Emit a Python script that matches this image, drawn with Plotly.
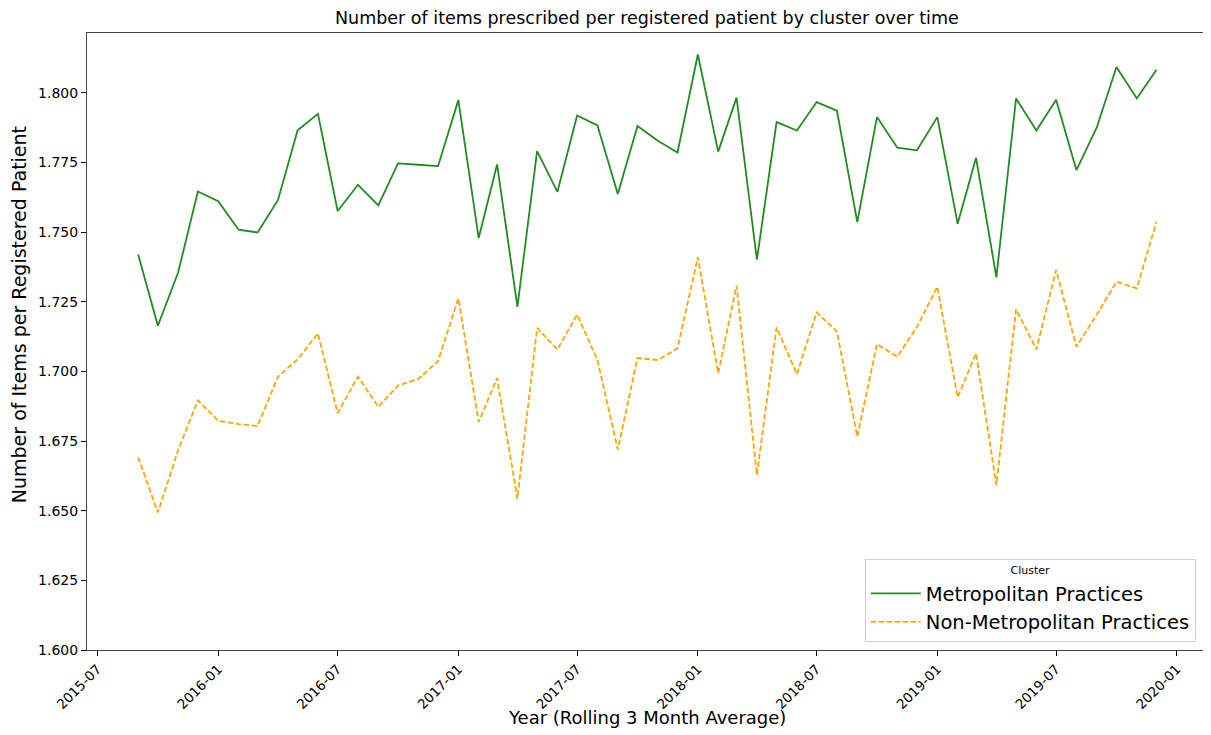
import plotly.graph_objects as go
import pandas as pd

months = pd.date_range("2015-09-01", "2019-12-01", freq="MS")

metro = [1.7420, 1.7164, 1.7356, 1.7646, 1.7611, 1.7509, 1.7499, 1.7615, 1.7866, 1.7925,
         1.7576, 1.7670, 1.7596, 1.7747, 1.7742, 1.7737, 1.7974, 1.7479, 1.7743, 1.7232,
         1.7791, 1.7645, 1.7919, 1.7883, 1.7637, 1.7881, 1.7828, 1.7786, 1.8138, 1.7789,
         1.7983, 1.7401, 1.7895, 1.7865, 1.7967, 1.7936, 1.7536, 1.7913, 1.7803, 1.7794,
         1.7913, 1.7530, 1.7767, 1.7338, 1.7980, 1.7865, 1.7975, 1.7723, 1.7876, 1.8093,
         1.7980, 1.8083]

non_metro = [1.6692, 1.6494, 1.6718, 1.6896, 1.6823, 1.6811, 1.6804, 1.6981, 1.7043, 1.7137,
             1.6850, 1.6981, 1.6873, 1.6949, 1.6973, 1.7037, 1.7262, 1.6819, 1.6976, 1.6543,
             1.7156, 1.7079, 1.7204, 1.7041, 1.6720, 1.7048, 1.7041, 1.7083, 1.7410, 1.6993,
             1.7308, 1.6628, 1.7158, 1.6990, 1.7212, 1.7143, 1.6766, 1.7098, 1.7053, 1.7160,
             1.7304, 1.6907, 1.7065, 1.6592, 1.7223, 1.7079, 1.7364, 1.7089, 1.7204, 1.7322,
             1.7298, 1.7537]

series_names = ["Metropolitan Practices", "Non-Metropolitan Practices"]
x_ticks = pd.date_range("2015-07-01", "2020-01-01", freq="6MS")
y_ticks = [1.600, 1.625, 1.650, 1.675, 1.700, 1.725, 1.750, 1.775, 1.800]

FONT = "DejaVu Sans"

fig = go.Figure()
fig.add_trace(go.Scatter(x=months, y=metro, mode="lines", name=series_names[0],
                         line=dict(color="#228B22", width=1.8)))
fig.add_trace(go.Scatter(x=months, y=non_metro, mode="lines", name=series_names[1],
                         line=dict(color="#FFA500", width=1.8, dash="5.5px,2.5px")))

fig.update_layout(
    width=1211, height=735,
    paper_bgcolor="white", plot_bgcolor="white",
    margin=dict(l=79, r=12, t=25, b=93, autoexpand=False),
    font=dict(family=FONT, color="black"),
    showlegend=True,
    legend=dict(
        title=dict(text="Cluster", side="top center", font=dict(size=11, family=FONT)),
        font=dict(size=19.5, family=FONT),
        x=0.990, xanchor="right", y=0.013, yanchor="bottom",
        bgcolor="white", bordercolor="#d0d0d0", borderwidth=1,
        tracegroupgap=0, itemwidth=50,
    ),
    annotations=[
        dict(text="Number of items prescribed per registered patient by cluster over time",
             xref="paper", yref="paper", x=0.5, y=1.0243, xanchor="center", yanchor="middle",
             showarrow=False, font=dict(size=17.5, family=FONT, color="black")),
        dict(text="Year (Rolling 3 Month Average)",
             xref="paper", yref="paper", x=0.5, y=-0.110, xanchor="center", yanchor="middle",
             showarrow=False, font=dict(size=18, family=FONT, color="black")),
        dict(text="Number of Items per Registered Patient", textangle=-90,
             xref="paper", yref="paper", x=-0.0605, y=0.543, xanchor="center", yanchor="middle",
             showarrow=False, font=dict(size=19, family=FONT, color="black")),
    ],
)

fig.update_xaxes(
    range=["2015-06-15", "2020-02-16"],
    tickvals=x_ticks, tickformat="%Y-%m", tickangle=-45,
    tickfont=dict(size=13.5, family=FONT),
    ticks="outside", ticklen=5, tickcolor="black",
    showline=True, linecolor="#444", linewidth=1, mirror=True,
    showgrid=False, zeroline=False, automargin=False,
)
fig.update_yaxes(
    range=[1.6, 1.8215],
    tickvals=y_ticks, tickformat=".3f",
    tickfont=dict(size=14, family=FONT),
    ticks="outside", ticklen=5, tickcolor="black",
    showline=True, linecolor="#444", linewidth=1, mirror=True,
    showgrid=False, zeroline=False, automargin=False,
)

fig.write_html("out.html")
